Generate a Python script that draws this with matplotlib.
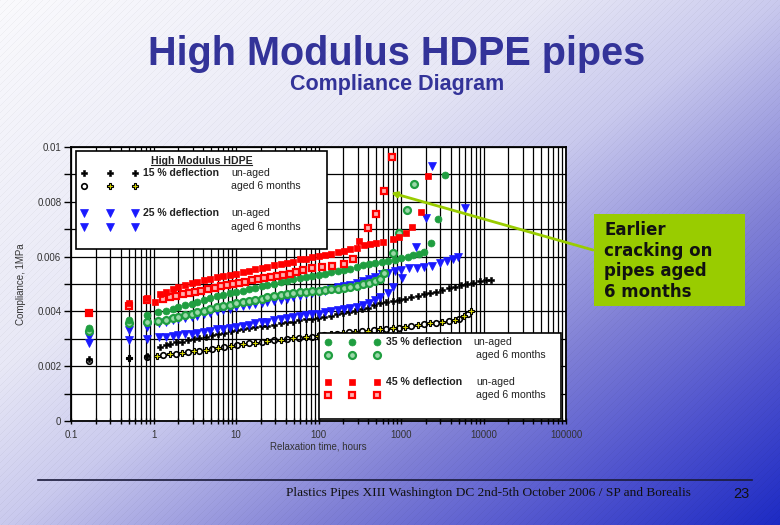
import numpy as np
import matplotlib.pyplot as plt
from matplotlib.patches import Rectangle
from matplotlib.ticker import LogLocator, NullFormatter, MultipleLocator

plt.rcParams['font.family'] = ['Liberation Sans', 'DejaVu Sans']

# relaxation time (hours) and compliance (1e-3 1/MPa)
t15u = [0.167, 0.5, 0.83, 1.2, 1.4, 1.6, 1.9, 2.2, 2.6, 3.1, 3.6, 4.3, 5.1, 6.1, 7.2, 8.6,
        10.2, 12, 14.5, 17, 20.5, 24, 29, 35, 41, 49, 58, 70, 83, 99, 118, 140, 167, 198,
        236, 280, 333, 397, 472, 560, 667, 794, 945, 1120, 1330, 1590, 1890, 2240, 2670,
        3170, 3770, 4490, 5340, 6350, 7560, 9000, 10700, 12300]
c15u = [2.28, 2.29, 2.36, 2.71, 2.76, 2.80, 2.87, 2.90, 2.95, 3.00, 3.04, 3.08, 3.13, 3.18,
        3.22, 3.28, 3.32, 3.36, 3.40, 3.42, 3.45, 3.48, 3.51, 3.56, 3.60, 3.63, 3.67, 3.71,
        3.73, 3.76, 3.80, 3.85, 3.89, 3.93, 3.98, 4.03, 4.07, 4.14, 4.25, 4.30, 4.33, 4.37,
        4.42, 4.46, 4.51, 4.56, 4.62, 4.66, 4.72, 4.78, 4.84, 4.90, 4.96, 5.00, 5.05, 5.10,
        5.13, 5.16]

t15a = [0.167, 0.5, 0.83, 1.1, 1.3, 1.6, 1.9, 2.2, 2.6, 3.1, 3.6, 4.3, 5.1, 6.1, 7.2, 8.6,
        10.2, 12, 14.5, 17, 20.5, 24, 29, 35, 41, 49, 58, 70, 83, 99, 118, 140, 167, 198,
        236, 280, 333, 397, 472, 560, 667, 794, 945, 1120, 1330, 1590, 1890, 2240, 2670,
        3170, 3770, 4490, 5100, 5840, 6400, 7030]
c15a = [2.20, 2.29, 2.35, 2.37, 2.40, 2.43, 2.46, 2.49, 2.52, 2.55, 2.57, 2.60, 2.64, 2.67,
        2.70, 2.74, 2.77, 2.80, 2.83, 2.86, 2.89, 2.92, 2.95, 2.97, 3.00, 3.02, 3.04, 3.06,
        3.08, 3.10, 3.13, 3.16, 3.19, 3.22, 3.24, 3.26, 3.28, 3.30, 3.32, 3.34, 3.36, 3.38,
        3.40, 3.43, 3.46, 3.49, 3.53, 3.56, 3.59, 3.62, 3.64, 3.67, 3.72, 3.83, 3.90, 4.02]

t25u = [0.167, 0.5, 0.83, 1.15, 1.4, 1.7, 2.0, 2.4, 2.9, 3.4, 4.1, 4.9, 5.9, 7.0, 8.4, 10,
        12, 14.3, 17, 20.4, 24, 29, 35, 41, 49, 59, 70, 84, 100, 120, 143, 170, 204, 243,
        290, 346, 413, 490, 590, 700, 840, 1000, 1260, 1580, 1900, 2400, 3000, 3630, 4250,
        4900, 6000]
c25u = [3.07, 3.32, 3.43, 3.56, 3.62, 3.68, 3.72, 3.76, 3.80, 3.84, 3.90, 3.95, 4.00, 4.05,
        4.10, 4.15, 4.19, 4.23, 4.27, 4.31, 4.35, 4.38, 4.42, 4.47, 4.52, 4.58, 4.62, 4.66,
        4.70, 4.76, 4.82, 4.88, 4.93, 4.98, 5.03, 5.10, 5.18, 5.26, 5.36, 5.40, 5.46, 5.50,
        5.57, 5.60, 5.62, 5.66, 5.75, 5.85, 5.92, 6.00, 7.76]

t25a = [0.167, 0.5, 0.83, 1.15, 1.4, 1.7, 2.0, 2.4, 2.9, 3.4, 4.1, 4.9, 5.9, 7.0, 8.4, 10,
        12, 14.3, 17, 20.4, 24, 29, 35, 41, 49, 59, 70, 84, 100, 120, 143, 170, 204, 243,
        290, 346, 413, 490, 550, 690, 790, 1040, 1540, 2000, 2400]
c25a = [2.83, 2.95, 3.01, 3.06, 3.08, 3.11, 3.13, 3.16, 3.19, 3.22, 3.26, 3.30, 3.34, 3.37,
        3.41, 3.44, 3.48, 3.52, 3.56, 3.60, 3.63, 3.67, 3.71, 3.75, 3.79, 3.83, 3.86, 3.89,
        3.92, 3.96, 4.00, 4.04, 4.08, 4.12, 4.16, 4.22, 4.30, 4.42, 4.54, 4.66, 4.90, 5.21,
        6.34, 7.40, 9.31]

t35u = [0.167, 0.5, 0.83, 1.14, 1.4, 1.7, 2.0, 2.4, 2.9, 3.4, 4.1, 4.9, 5.9, 7.0, 8.4, 10,
        12, 14.3, 17, 20.4, 24, 29, 35, 41, 49, 59, 70, 84, 100, 120, 143, 170, 204, 243,
        290, 346, 413, 490, 590, 700, 840, 1000, 1200, 1400, 1650, 1900, 2300, 2800, 3400]
c35u = [3.40, 3.68, 3.86, 3.96, 4.03, 4.10, 4.15, 4.22, 4.28, 4.34, 4.41, 4.48, 4.55, 4.61,
        4.66, 4.70, 4.75, 4.80, 4.85, 4.91, 4.96, 5.01, 5.06, 5.12, 5.17, 5.22, 5.26, 5.30,
        5.34, 5.38, 5.42, 5.46, 5.50, 5.54, 5.62, 5.68, 5.72, 5.76, 5.80, 5.84, 5.88, 5.96,
        6.00, 6.05, 6.08, 6.17, 6.48, 7.39, 8.99]

t35a = [0.167, 0.5, 0.83, 1.14, 1.4, 1.7, 2.0, 2.4, 2.9, 3.4, 4.1, 4.9, 5.9, 7.0, 8.4, 10,
        12, 14.3, 17, 20.4, 24, 29, 35, 41, 49, 59, 70, 84, 100, 120, 143, 170, 204, 243,
        290, 346, 413, 490, 550, 630, 790, 950, 1170, 1440]
c35a = [3.28, 3.58, 3.62, 3.65, 3.70, 3.75, 3.80, 3.86, 3.92, 3.97, 4.03, 4.09, 4.15, 4.20,
        4.25, 4.29, 4.33, 4.38, 4.42, 4.47, 4.51, 4.55, 4.59, 4.62, 4.66, 4.69, 4.72, 4.74,
        4.76, 4.79, 4.81, 4.83, 4.85, 4.89, 4.94, 5.00, 5.05, 5.12, 5.20, 5.41, 6.14, 6.85,
        7.70, 8.65]

t45u = [0.167, 0.5, 0.83, 1.04, 1.2, 1.4, 1.7, 2.0, 2.4, 2.9, 3.4, 4.1, 4.9, 5.9, 7.0, 8.4,
        10, 12, 14.3, 17, 20.4, 24, 29, 35, 41, 49, 59, 70, 84, 100, 120, 143, 170, 204, 243,
        290, 313, 359, 420, 497, 600, 790, 950, 1150, 1360, 1740, 2100]
c45u = [3.98, 4.30, 4.48, 4.36, 4.63, 4.70, 4.80, 4.88, 4.95, 5.02, 5.08, 5.14, 5.19, 5.24,
        5.29, 5.33, 5.37, 5.42, 5.47, 5.53, 5.58, 5.63, 5.68, 5.72, 5.77, 5.82, 5.90, 5.93,
        5.97, 6.01, 6.06, 6.11, 6.16, 6.21, 6.26, 6.30, 6.58, 6.42, 6.46, 6.49, 6.52, 6.64,
        6.73, 6.85, 7.07, 7.62, 8.95]

t45a = [0.167, 0.5, 0.83, 1.3, 1.6, 1.9, 2.3, 2.7, 3.2, 3.8, 4.6, 5.5, 6.5, 7.8, 9.3, 11,
        13, 15.6, 18.6, 22, 26.5, 31.6, 37.6, 45, 53.5, 64, 84, 111, 147, 205, 260, 394,
        497, 630, 770]
c45a = [3.95, 4.20, 4.42, 4.45, 4.53, 4.58, 4.63, 4.68, 4.72, 4.76, 4.81, 4.86, 4.91, 4.96,
        5.01, 5.05, 5.09, 5.13, 5.17, 5.21, 5.25, 5.29, 5.33, 5.37, 5.44, 5.51, 5.57, 5.61,
        5.66, 5.73, 5.90, 7.03, 7.55, 8.40, 9.62]

x_ticks = [0.1, 1, 10, 100, 1000, 10000, 100000]
x_labels = ['0.1', '1', '10', '100', '1000', '10000', '100000']
y_ticks = [0, 0.002, 0.004, 0.006, 0.008, 0.01]
y_labels = ['0', '0.002', '0.004', '0.006', '0.008', '0.01']
callout_lines = ['Earlier', 'cracking on', 'pipes aged', '6 months']

RED, GREEN, BLUE = '#ff0000', '#1f9e40', '#1a1aff'
st15u = dict(marker='P', ms=5, mfc='black', mec='black', mew=0.4)
st15a = dict(marker='P', ms=5, mfc='#d8d800', mec='black', mew=0.8)
st15c = dict(marker='o', ms=4, mfc='none', mec='black', mew=1.2)
st25u = dict(marker='v', ms=5.2, mfc=BLUE, mec=BLUE, mew=0.5)
st25a = dict(marker='v', ms=5.2, mfc=BLUE, mec=BLUE, mew=0.5)
st35u = dict(marker='o', ms=5, mfc=GREEN, mec=GREEN, mew=0.5)
st35a = dict(marker='o', ms=5, mfc='#9ad8a8', mec=GREEN, mew=1.6)
st45u = dict(marker='s', ms=4.7, mfc=RED, mec=RED, mew=0.5)
st45a = dict(marker='s', ms=4.7, mfc='#ffb0b0', mec=RED, mew=1.6)

W, H = 780, 525
fig = plt.figure(figsize=(7.8, 5.25), dpi=100)

# slide background: white top-left to blue bottom-right, with faint diagonal hatching
yy, xx = np.mgrid[0:H, 0:W]
s = 0.5 * xx / W + 0.5 * yy / H
stops = [0, 0.35, 0.5, 0.7, 0.85, 1.0]
r = np.interp(s, stops, [250, 232, 202, 128, 78, 28])
g = np.interp(s, stops, [250, 232, 202, 128, 82, 42])
b = np.interp(s, stops, [253, 246, 238, 214, 206, 196])
img = np.dstack([r, g, b]) / 255.0
img[(xx + yy) % 7 == 0] *= 0.965
bg = fig.add_axes([0, 0, 1, 1])
bg.imshow(img, aspect='auto', interpolation='nearest')
bg.axis('off')

fig.text(0.508, 1 - 65 / H, 'High Modulus HDPE pipes', ha='center', va='baseline',
         fontsize=28.5, fontweight='bold', color='#333399')
fig.text(0.509, 1 - 90 / H, 'Compliance Diagram', ha='center', va='baseline',
         fontsize=15.5, fontweight='bold', color='#333399')

ax = fig.add_axes([71 / W, 104 / H, 495 / W, 274 / H])
ax.set_facecolor('white')
ax.set_xscale('log')
ax.set_xlim(0.1, 100000)
ax.set_ylim(0, 0.01)
ax.set_xticks(x_ticks)
ax.set_xticklabels(x_labels)
ax.xaxis.set_minor_locator(LogLocator(base=10, subs=np.arange(2, 10)))
ax.xaxis.set_minor_formatter(NullFormatter())
ax.set_yticks(y_ticks)
ax.set_yticklabels(y_labels)
ax.yaxis.set_minor_locator(MultipleLocator(0.001))
ax.grid(True, which='both', color='black', lw=0.9)
ax.set_axisbelow(True)
ax.tick_params(axis='both', which='both', labelsize=7, labelcolor='#333333', width=1)
ax.tick_params(axis='x', which='both', direction='inout', length=5, pad=4)
ax.tick_params(axis='y', which='both', direction='out', length=5, pad=2)
for sp in ax.spines.values():
    sp.set_linewidth(1.3)
ax.set_xlabel('Relaxation time, hours', fontsize=7, color='#333333', labelpad=1)
ax.set_ylabel('Compliance, 1MPa', fontsize=7, color='#333333', labelpad=8)

def cv(vals):
    return np.array(vals) * 1e-3

ax.plot(t15a[::2], cv(c15a)[::2], ls='none', zorder=3, **st15c)
ax.plot(t15a[1::2], cv(c15a)[1::2], ls='none', zorder=3, **st15a)
ax.plot(t15u, cv(c15u), ls='none', zorder=3, **st15u)
ax.plot(t25a, cv(c25a), ls='none', zorder=3, **st25a)
ax.plot(t25u, cv(c25u), ls='none', zorder=3, **st25u)
ax.plot(t35a, cv(c35a), ls='none', zorder=3, **st35a)
ax.plot(t35u, cv(c35u), ls='none', zorder=3, **st35u)
ax.plot(t45a, cv(c45a), ls='none', zorder=3, **st45a)
ax.plot(t45u, cv(c45u), ls='none', zorder=3, **st45u)

# legend boxes drawn by hand (two boxes, three symbols per row)
def box(x0, y0, x1, y1):
    ax.add_patch(Rectangle((x0, y0), x1 - x0, y1 - y0, transform=ax.transAxes,
                           facecolor='white', edgecolor='black', lw=1.2, zorder=5))

def row(y, xs, styles, bold, rest, rest_x):
    for x, st in zip(xs, styles):
        ax.plot([x], [y], transform=ax.transAxes, clip_on=False, zorder=6, ls='none', **st)
    if bold:
        ax.text(xs[-1] + 0.017, y, bold, transform=ax.transAxes, fontsize=7.6,
                fontweight='bold', color='#222222', va='center', zorder=7)
    ax.text(rest_x, y, rest, transform=ax.transAxes, fontsize=7.6,
            color='#222222', va='center', zorder=7)

box(0.010, 0.628, 0.517, 0.986)
ttl = ax.text(0.264, 0.949, 'High Modulus HDPE', transform=ax.transAxes, fontsize=7.6,
              fontweight='bold', color='#222222', ha='center', va='center', zorder=7)
xs1 = [0.027, 0.079, 0.129]
row(0.904, xs1, [st15u] * 3, '15 % deflection', 'un-aged', 0.325)
row(0.858, xs1, [st15c, st15a, st15a], None, 'aged 6 months', 0.323)
row(0.758, xs1, [st25u] * 3, '25 % deflection', 'un-aged', 0.325)
row(0.707, xs1, [st25a] * 3, None, 'aged 6 months', 0.323)

box(0.501, 0.007, 0.990, 0.322)
xs2 = [0.520, 0.567, 0.619]
row(0.287, xs2, [st35u] * 3, '35 % deflection', 'un-aged', 0.812)
row(0.241, xs2, [st35a] * 3, None, 'aged 6 months', 0.818)
row(0.141, xs2, [st45u] * 3, '45 % deflection', 'un-aged', 0.818)
row(0.095, xs2, [st45a] * 3, None, 'aged 6 months', 0.818)

# underline of the legend title
fig.canvas.draw()
bb = ttl.get_window_extent().transformed(ax.transAxes.inverted())
ax.plot([bb.x0, bb.x1], [bb.y0 + 0.004, bb.y0 + 0.004], transform=ax.transAxes,
        color='#222222', lw=0.8, zorder=7)

# callout
fig.patches.append(Rectangle((594 / W, 1 - 306 / H), 151 / W, 92 / H,
                             transform=fig.transFigure, facecolor='#99cc00',
                             edgecolor='none', zorder=2))
for i, line in enumerate(callout_lines):
    fig.text(604 / W, 1 - (235 + 20.7 * i) / H, line, ha='left', va='baseline',
             fontsize=12, fontweight='bold', family='DejaVu Sans', color='#111111')
ax.annotate('', xy=(t45a[-2], cv(c45a)[-2]), xycoords='data',
            xytext=(593 / W, 1 - 250 / H), textcoords='figure fraction',
            arrowprops=dict(arrowstyle='-|>', color='#99cc00', lw=2, shrinkA=0,
                            shrinkB=5, mutation_scale=8),
            annotation_clip=False, zorder=8)

# footer
fig.add_artist(plt.Line2D([38 / W, 752 / W], [1 - 480 / H, 1 - 480 / H],
                          transform=fig.transFigure, color='#1a1a3a', lw=1.2))
fig.text(691 / W, 1 - 496 / H,
         'Plastics Pipes XIII Washington DC 2nd-5th October 2006 / SP and Borealis',
         ha='right', va='baseline', fontsize=9.6, family='Liberation Serif', color='#111111')
fig.text(750 / W, 1 - 498 / H, '23', ha='right', va='baseline', fontsize=10.5,
         color='#111111')

fig.savefig('out.png', dpi=100)
